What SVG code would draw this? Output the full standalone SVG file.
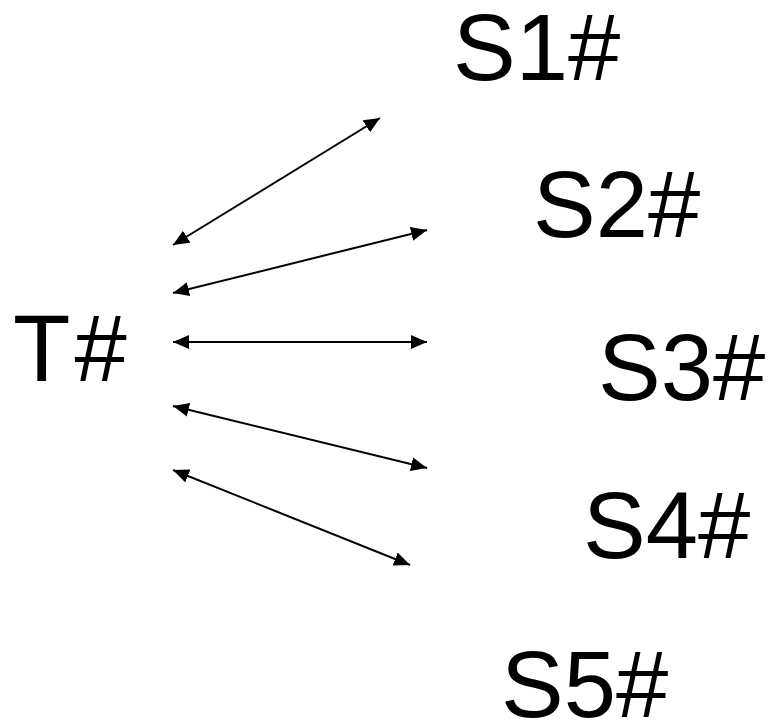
<svg xmlns="http://www.w3.org/2000/svg" width="771" height="724" viewBox="0 0 771 724">
  <style>
    .label { font-family: "Liberation Sans", Arial, sans-serif; font-size: 94px; fill: #000; }
    .link { stroke: #000; stroke-width: 2; fill: none; marker-start: url(#head); marker-end: url(#head); }
  </style>
  <defs>
    <!-- filled triangular head, reused at both ends of every link -->
    <marker id="head" viewBox="0 0 16 14" refX="16" refY="7" markerWidth="16" markerHeight="14" markerUnits="userSpaceOnUse" orient="auto-start-reverse">
      <path d="M0,0 L16,7 L0,14 Z" fill="#000"/>
    </marker>
  </defs>
  <rect width="771" height="724" fill="#fff"/>

  <g id="connectors">
    <line class="link" x1="173" y1="245" x2="380" y2="118"/>
    <line class="link" x1="173" y1="293" x2="427" y2="230"/>
    <line class="link" x1="173" y1="342" x2="427" y2="342"/>
    <line class="link" x1="173" y1="406" x2="427" y2="468"/>
    <line class="link" x1="173" y1="470" x2="410" y2="565"/>
  </g>

  <g id="T"><text class="label" x="13" y="381">T<tspan dx="4">#</tspan></text></g>
  <g id="S1"><text class="label" x="453" y="80">S1#</text></g>
  <g id="S2"><text class="label" x="533" y="237">S2#</text></g>
  <g id="S3"><text class="label" x="598" y="400">S3#</text></g>
  <g id="S4"><text class="label" x="583" y="558">S4#</text></g>
  <g id="S5"><text class="label" x="501" y="717">S5#</text></g>
</svg>
